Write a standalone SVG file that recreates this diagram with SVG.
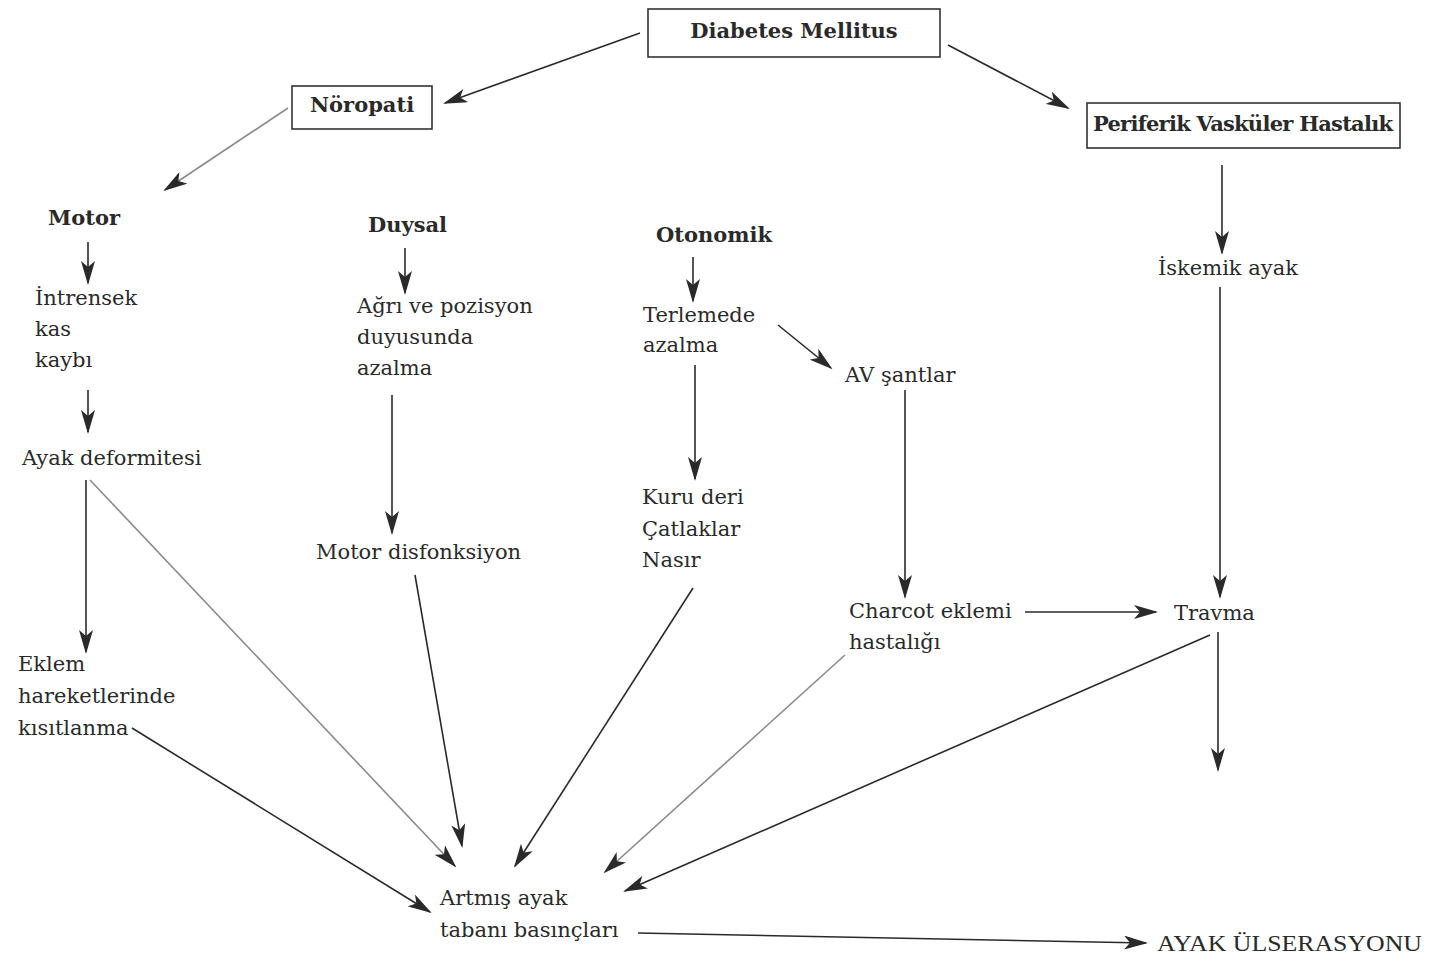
<svg xmlns="http://www.w3.org/2000/svg" width="1430" height="961" viewBox="0 0 1430 961">
<style>
text{font-family:"DejaVu Serif","Liberation Serif",serif;fill:#2a2a2a;font-size:21px}
.b{font-weight:bold}
.box{fill:#fff;stroke:#333;stroke-width:1.6}
.c line{stroke:#2a2a2a;stroke-width:1.6;fill:none;marker-end:url(#ah)}
.c line.g{stroke:#8a8a8a}
</style>
<defs>
<marker id="ah" viewBox="0 0 24 14" refX="22" refY="7" markerWidth="24" markerHeight="14" markerUnits="userSpaceOnUse" orient="auto">
<path d="M0,0 L24,7 L0,14 L6,7 Z" fill="#2a2a2a"/>
</marker>
</defs>
<rect width="1430" height="961" fill="#fff"/>
<g class="c" id="connectors">
<line x1="640" y1="33" x2="445" y2="103"/>
<line x1="948" y1="45" x2="1068" y2="108"/>
<line class="g" x1="288" y1="108" x2="165" y2="190"/>
<line x1="88" y1="242" x2="88" y2="283"/>
<line x1="88" y1="390" x2="88" y2="432"/>
<line x1="86" y1="480" x2="86" y2="652"/>
<line class="g" x1="90" y1="480" x2="455" y2="866"/>
<line x1="132" y1="728" x2="430" y2="912"/>
<line x1="405" y1="248" x2="405" y2="293"/>
<line x1="392" y1="395" x2="392" y2="533"/>
<line x1="415" y1="575" x2="462" y2="846"/>
<line x1="693" y1="257" x2="693" y2="301"/>
<line x1="778" y1="325" x2="831" y2="368"/>
<line x1="695" y1="365" x2="695" y2="479"/>
<line x1="693" y1="588" x2="515" y2="866"/>
<line x1="905" y1="390" x2="905" y2="597"/>
<line x1="1025" y1="612" x2="1156" y2="612"/>
<line class="g" x1="845" y1="655" x2="605" y2="872"/>
<line x1="1222" y1="165" x2="1222" y2="253"/>
<line x1="1220" y1="287" x2="1220" y2="597"/>
<line x1="1218" y1="632" x2="1218" y2="770"/>
<line x1="1210" y1="635" x2="625" y2="891"/>
<line x1="638" y1="933" x2="1146" y2="943"/>
</g>
<g id="diabetes"><rect class="box" x="648" y="9" width="292" height="48"/><text class="b" x="794" y="38" text-anchor="middle">Diabetes Mellitus</text></g>
<g id="noropati"><rect class="box" x="292" y="86" width="140" height="43"/><text class="b" x="362" y="112" text-anchor="middle">Nöropati</text></g>
<g id="pvh"><rect class="box" x="1087" y="103" width="313" height="45"/><text class="b" x="1243" y="131" text-anchor="middle" textLength="300">Periferik Vasküler Hastalık</text></g>
<g id="motor"><text class="b" x="48" y="225">Motor</text></g>
<g id="duysal"><text class="b" x="368" y="232">Duysal</text></g>
<g id="otonomik"><text class="b" x="656" y="242">Otonomik</text></g>
<g id="intrensek"><text x="35" y="305">İntrensek</text><text x="35" y="336">kas</text><text x="35" y="367">kaybı</text></g>
<g id="agri"><text x="357" y="313">Ağrı ve pozisyon</text><text x="357" y="344">duyusunda</text><text x="357" y="375">azalma</text></g>
<g id="terlemede"><text x="643" y="322">Terlemede</text><text x="643" y="352">azalma</text></g>
<g id="avsant"><text x="845" y="382">AV şantlar</text></g>
<g id="iskemik"><text x="1158" y="275">İskemik ayak</text></g>
<g id="deformite"><text x="22" y="465">Ayak deformitesi</text></g>
<g id="motordisf"><text x="316" y="559">Motor disfonksiyon</text></g>
<g id="kurude"><text x="642" y="504">Kuru deri</text><text x="642" y="536">Çatlaklar</text><text x="642" y="567">Nasır</text></g>
<g id="charcot"><text x="849" y="618">Charcot eklemi</text><text x="849" y="649">hastalığı</text></g>
<g id="travma"><text x="1174" y="620">Travma</text></g>
<g id="eklem"><text x="18" y="671">Eklem</text><text x="18" y="703">hareketlerinde</text><text x="18" y="735">kısıtlanma</text></g>
<g id="artmis"><text x="440" y="905">Artmış ayak</text><text x="440" y="937">tabanı basınçları</text></g>
<g id="ulser"><text x="1157" y="951" style="font-size:23px;font-family:'Liberation Serif',serif" textLength="265" lengthAdjust="spacingAndGlyphs">AYAK ÜLSERASYONU</text></g>
</svg>
